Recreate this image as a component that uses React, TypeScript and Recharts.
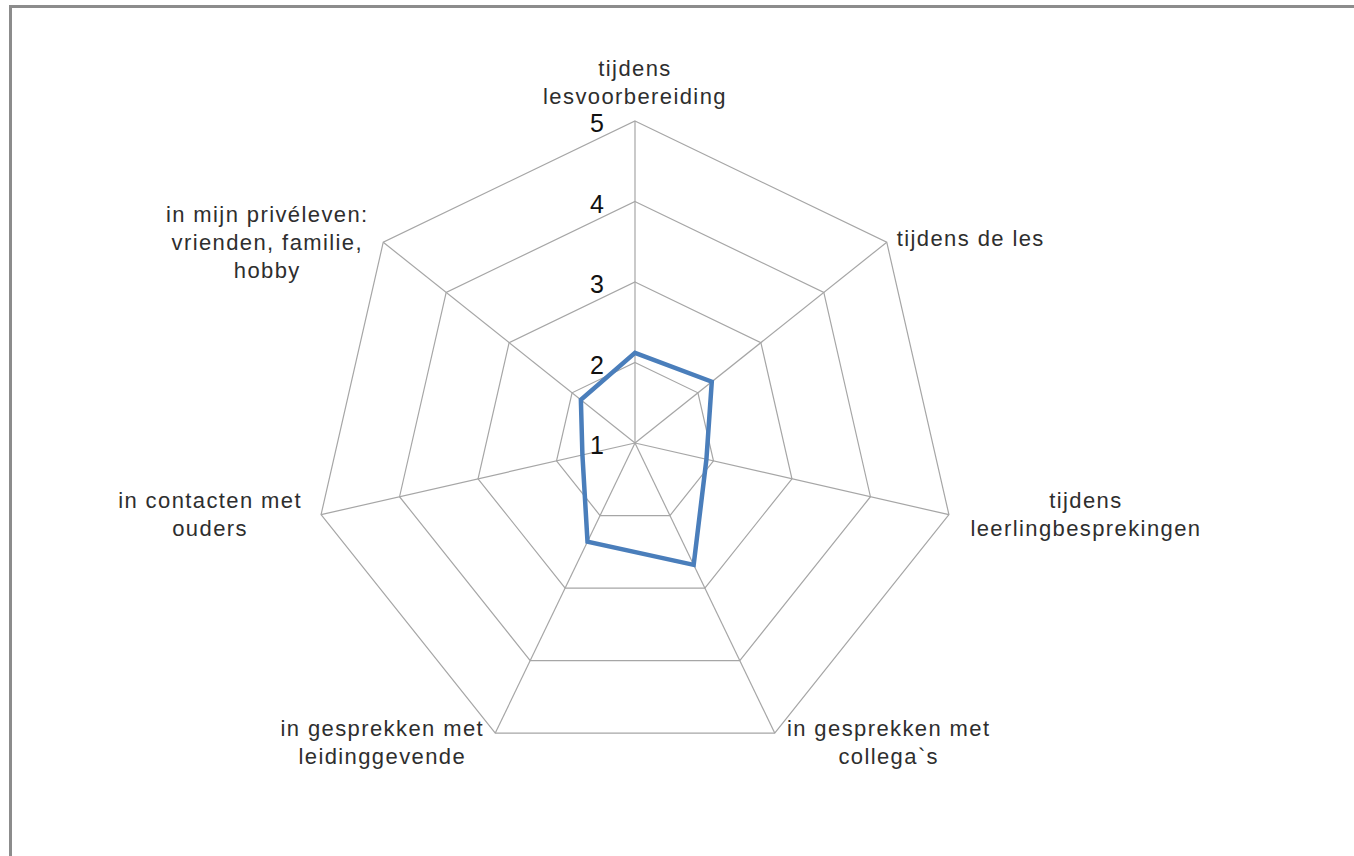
import { RadarChart, Radar, PolarGrid, PolarAngleAxis, PolarRadiusAxis } from 'recharts'

// categories (line breaks as in the original labels)
const categories = [
  'tijdens\nlesvoorbereiding',
  'tijdens de les',
  'tijdens\nleerlingbesprekingen',
  'in gesprekken met\ncollega`s',
  'in gesprekken met\nleidinggevende',
  'in contacten met\nouders',
  'in mijn privéleven:\nvrienden, familie,\nhobby',
]

const scores = [2.12, 2.22, 1.91, 2.68, 2.36, 1.67, 1.86]

const radiusTicks = [1, 2, 3, 4, 5]

const chartData = categories.map((c, i) => ({ category: c, score: scores[i] }))

const OUTER = 322
const CX = 635
const CY = 443

// where each label block sits relative to its vertex
const labelPlace = [
  { dx: 0, dy: -53 },
  { dx: 10, dy: -4, anchor: 'start' },
  { dx: 137, dy: -14 },
  { dx: 114, dy: -5 },
  { dx: -113, dy: -5 },
  { dx: -111, dy: -14 },
  { dx: -116, dy: -28 },
]

const AngleTick = (props: any) => {
  const { payload, index } = props
  const angle = (payload.coordinate * Math.PI) / 180
  const vx = CX + OUTER * Math.cos(angle)
  const vy = CY - OUTER * Math.sin(angle)
  const place = labelPlace[index] || { dx: 0, dy: 0 }
  const lines = String(payload.value).split('\n')
  return (
    <text
      x={vx + place.dx}
      y={vy + place.dy}
      textAnchor={place.anchor || 'middle'}
      fill="#2e2e2e"
      fontSize={22}
      letterSpacing={1.4}
      fontFamily="'Liberation Sans', Arial, sans-serif"
    >
      {lines.map((l, i) => (
        <tspan key={i} x={vx + place.dx} y={vy + place.dy + i * 28} dominantBaseline="central">
          {l}
        </tspan>
      ))}
    </text>
  )
}

const RadiusTick = (props: any) => {
  const { x, y, payload } = props
  return (
    <text
      x={x - 38}
      y={y + 2}
      textAnchor="middle"
      dominantBaseline="central"
      fill="#111"
      fontSize={25}
      fontFamily="'Liberation Sans', Arial, sans-serif"
    >
      {payload.value}
    </text>
  )
}

export default function App() {
  return (
    <div style={{ position: 'absolute', left: 0, top: 0, width: 1354, height: 856, background: '#fff' }}>
      <div
        style={{
          position: 'absolute',
          left: 9,
          top: 5,
          width: 1360,
          height: 870,
          borderTop: '3px solid #8c8c8c',
          borderLeft: '3px solid #8c8c8c',
        }}
      />
      <div style={{ position: 'absolute', left: 0, top: 0 }}>
        <RadarChart
          width={1354}
          height={856}
          data={chartData}
          cx={CX}
          cy={CY}
          outerRadius={OUTER}
          margin={{ top: 0, right: 0, bottom: 0, left: 0 }}
        >
          <PolarGrid gridType="polygon" stroke="#a6a6a6" strokeWidth={1.2} />
          <PolarAngleAxis dataKey="category" tick={<AngleTick />} tickLine={false} axisLine={false} />
          <PolarRadiusAxis
            angle={90}
            domain={[1, 5]}
            ticks={radiusTicks}
            tickCount={5}
            axisLine={false}
            tickLine={false}
            tick={<RadiusTick />}
          />
          <Radar
            dataKey="score"
            stroke="#4a7ebb"
            strokeWidth={4.5}
            fill="none"
            fillOpacity={0}
            dot={false}
            isAnimationActive={false}
          />
        </RadarChart>
      </div>
    </div>
  )
}
